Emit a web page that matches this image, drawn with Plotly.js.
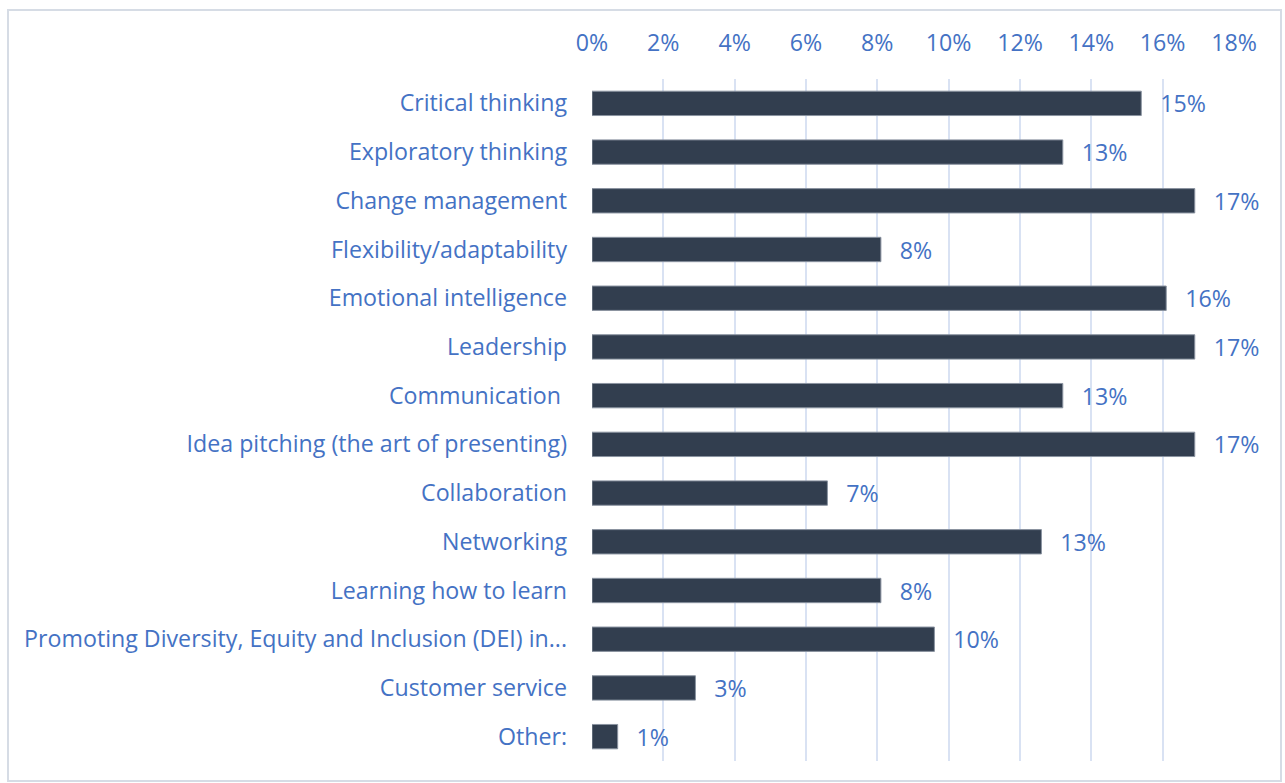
<!DOCTYPE html>
<html>
<head>
<meta charset="utf-8">
<script src="https://cdn.plot.ly/plotly-3.0.1.min.js"></script>
<style>
  html, body { margin: 0; padding: 0; background: #fff; }
  #chart { width: 1285px; height: 783px; }
</style>
</head>
<body>
<div id="chart"></div>
<script>
const categories = [
  "Critical thinking",
  "Exploratory thinking",
  "Change management",
  "Flexibility/adaptability",
  "Emotional intelligence",
  "Leadership",
  "Communication\u00a0",
  "Idea pitching (the art of presenting)",
  "Collaboration",
  "Networking",
  "Learning how to learn",
  "Promoting Diversity, Equity and Inclusion (DEI) in...",
  "Customer service",
  "Other:"
];
const values = [0.154, 0.132, 0.169, 0.081, 0.161, 0.169, 0.132, 0.169, 0.066, 0.126, 0.081, 0.096, 0.029, 0.0072];
const valueLabels = ["15%", "13%", "17%", "8%", "16%", "17%", "13%", "17%", "7%", "13%", "8%", "10%", "3%", "1%"];

const blue = "#4472C4";
const fontSize = 23.2;
const trace = {
  type: "bar",
  orientation: "h",
  y: categories,
  x: values,
  text: valueLabels.map(t => "\u00a0\u00a0\u2009" + t),
  textposition: "outside",
  constraintext: "none",
  cliponaxis: false,
  textfont: { family: "Open Sans", size: fontSize, color: blue },
  marker: { color: "#323E4F", line: { color: "#8A93A0", width: 1 } },
  hoverinfo: "skip"
};

const layout = {
  width: 1285,
  height: 783,
  margin: { l: 592, r: 51, t: 79, b: 22 },
  paper_bgcolor: "#ffffff",
  plot_bgcolor: "#ffffff",
  showlegend: false,
  bargap: 0.5,
  font: { family: "Open Sans", size: fontSize, color: blue },
  xaxis: {
    side: "top",
    range: [0, 0.18],
    dtick: 0.02,
    tick0: 0,
    tickformat: ".0%",
    showgrid: true,
    gridcolor: "#D9E2F3",
    gridwidth: 2,
    zeroline: false,
    showline: false,
    ticks: "",
    ticklabelstandoff: 22,
    tickfont: { family: "Open Sans", size: fontSize, color: blue },
    fixedrange: true
  },
  yaxis: {
    autorange: "reversed",
    showgrid: false,
    zeroline: false,
    showline: false,
    ticks: "",
    ticklabelstandoff: 24,
    tickfont: { family: "Open Sans", size: fontSize, color: blue },
    fixedrange: true
  },
  shapes: [{
    type: "rect",
    xref: "paper", yref: "paper",
    x0: (8 - 592) / 642, x1: (1281 - 592) / 642,
    y0: -(781 - 761) / 683, y1: 1 + (79 - 10) / 683,
    line: { color: "#D6DCE5", width: 2 },
    fillcolor: "rgba(0,0,0,0)",
    layer: "below"
  }]
};

Plotly.newPlot("chart", [trace], layout, { displayModeBar: false, staticPlot: true });
</script>
</body>
</html>
